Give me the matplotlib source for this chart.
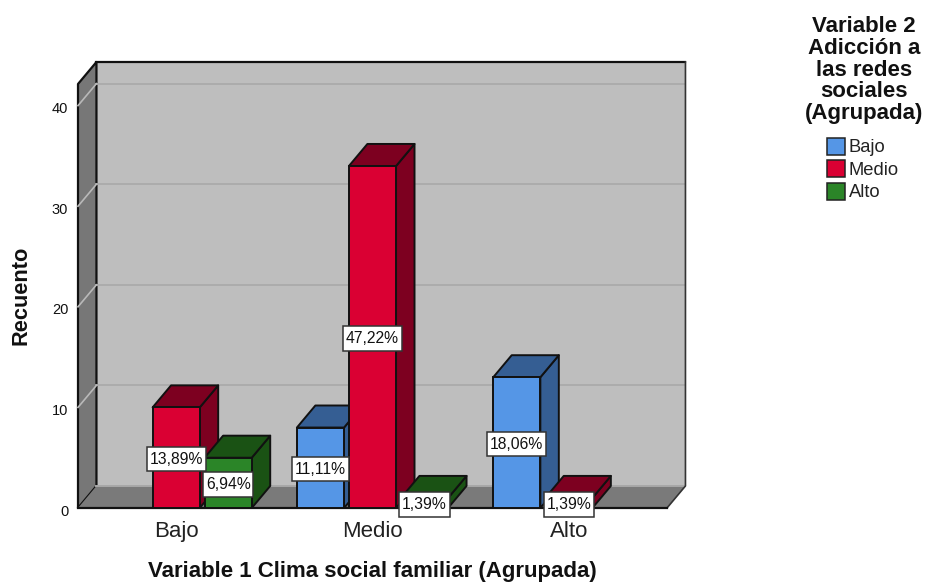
import matplotlib
matplotlib.use("Agg")
import matplotlib.pyplot as plt
from matplotlib.patches import Polygon, Rectangle
from matplotlib.path import Path
from matplotlib.transforms import ScaledTranslation

plt.rcParams['font.family'] = ['Liberation Sans', 'DejaVu Sans']

categories = ["Bajo", "Medio", "Alto"]
series_names = ["Bajo", "Medio", "Alto"]
bajo_counts = [0, 8, 13]
medio_counts = [10, 34, 1]
alto_counts = [5, 1, 0]
bajo_labels = ["", "11,11%", "18,06%"]
medio_labels = ["13,89%", "47,22%", "1,39%"]
alto_labels = ["6,94%", "1,39%", ""]
y_ticks = [0, 10, 20, 30, 40]

FRONT = ["#5596E6", "#DA0033", "#2B8528"]
DARK = ["#355E93", "#7D0020", "#1A5214"]
EDGE = "#111111"
BAR_W, STEP = 0.24, 0.265
DX, DY = 0.094, 2.19
XMIN, XMAX, YMAX = -0.5, 2.5, 42.15

W, H = 926, 583
fig = plt.figure(figsize=(W / 100, H / 100), dpi=100, facecolor="white")
ax = fig.add_axes([78 / W, (H - 508) / H, 589 / W, 424 / H])
ax.set_xlim(XMIN, XMAX)
ax.set_ylim(0, YMAX)
for s in ax.spines.values():
    s.set_visible(False)
ax.patch.set_visible(False)


def poly(pts, fc, ec=EDGE, lw=1.4, z=2):
    ax.add_patch(Polygon(pts, closed=True, facecolor=fc, edgecolor=ec, linewidth=lw,
                         clip_on=False, zorder=z, joinstyle="round"))


def label_box(x0, y0, width, height, mutation_size):
    # wider vertical than horizontal padding, as in the SPSS data labels
    px, py = 0.18 * mutation_size, 0.30 * mutation_size
    l, r, b, t = x0 - px, x0 + width + px, y0 - py, y0 + height + py
    return Path([(l, b), (r, b), (r, t), (l, t), (l, b)], closed=True)


# back wall, left wall, floor
poly([(XMIN + DX, DY), (XMAX + DX, DY), (XMAX + DX, YMAX + DY), (XMIN + DX, YMAX + DY)],
     "#BEBEBE", ec="none", z=1)
poly([(XMIN, 0), (XMIN + DX, DY), (XMIN + DX, YMAX + DY), (XMIN, YMAX)], "#777777", lw=1.6, z=1.2)
poly([(XMIN, 0), (XMAX, 0), (XMAX + DX, DY), (XMIN + DX, DY)], "#7A7A7A", ec="none", z=1.2)
ax.plot([XMIN + DX, XMAX + DX], [YMAX + DY] * 2, color=EDGE, lw=1.6, clip_on=False, zorder=1.5)
ax.plot([XMAX + DX, XMAX + DX, XMAX], [YMAX + DY, DY, 0], color="#333333", lw=1.2, clip_on=False, zorder=1.5)
ax.plot([XMIN, XMAX], [0, 0], color=EDGE, lw=1.6, clip_on=False, zorder=1.5)
ax.plot([XMIN + DX, XMAX + DX], [DY, DY], color="#A8A8A8", lw=1.4, clip_on=False, zorder=1.4)
for t in y_ticks[1:]:
    ax.plot([XMIN + DX, XMAX + DX], [t + DY] * 2, color="#ABABAB", lw=1.3, clip_on=False, zorder=1.3)
    ax.plot([XMIN, XMIN + DX], [t, t + DY], color="#B9B9B9", lw=1.2, clip_on=False, zorder=1.3)

# bars
all_counts = [bajo_counts, medio_counts, alto_counts]
all_labels = [bajo_labels, medio_labels, alto_labels]
z = 3.0
for c in range(len(categories)):
    for s in range(3):
        v = all_counts[s][c]
        if v == 0:
            continue
        x0 = c + (s - 1) * STEP - BAR_W / 2
        x1 = x0 + BAR_W
        poly([(x1, 0), (x1 + DX, DY), (x1 + DX, v + DY), (x1, v)], DARK[s], z=z)
        poly([(x0, v), (x1, v), (x1 + DX, v + DY), (x0 + DX, v + DY)], DARK[s], z=z)
        ax.add_patch(Rectangle((x0, 0), BAR_W, v, facecolor=FRONT[s], edgecolor=EDGE,
                               linewidth=1.4, clip_on=False, zorder=z + 0.1))
        z += 0.2
for c in range(len(categories)):
    for s in range(3):
        v = all_counts[s][c]
        if v == 0:
            continue
        ax.text(c + (s - 1) * STEP, v / 2, all_labels[s][c], ha="center", va="center_baseline",
                fontsize=11.3, color="#111111", zorder=10,
                bbox=dict(boxstyle=label_box, facecolor="white", edgecolor="#333333", linewidth=1.1))

# axes text
ax.set_xticks(range(len(categories)))
ax.set_xticklabels(categories, fontsize=16, color="#222222")
ax.set_yticks(y_ticks)
ax.set_yticklabels([str(t) for t in y_ticks], fontsize=10.5, color="#111111")
ax.tick_params(axis="both", length=0)
ax.tick_params(axis="x", pad=9.5)
ax.tick_params(axis="y", pad=7)
shift = ScaledTranslation(0, -2 / 100, fig.dpi_scale_trans)
for lab in ax.get_yticklabels():
    lab.set_transform(lab.get_transform() + shift)
ax.set_xlabel("Variable 1 Clima social familiar (Agrupada)", fontsize=16, fontweight="bold",
              color="#111111", va="center")
ax.xaxis.set_label_coords(0.5, (508 - 572) / 424)
ax.set_ylabel("Recuento", fontsize=15.7, fontweight="bold", color="#111111", va="center")
ax.yaxis.set_label_coords((21 - 78) / 589, 0.502)

# legend
fig.text(864 / W, 1 - 70 / H, "Variable 2\nAdicción a\nlas redes\nsociales\n(Agrupada)",
         ha="center", va="center", fontsize=16, fontweight="bold", color="#111111", linespacing=1.05)
leg_y = [146, 169, 191]
for i, name in enumerate(series_names):
    fig.add_artist(Rectangle((827 / W, 1 - (leg_y[i] + 8.5) / H), 18 / W, 17 / H, facecolor=FRONT[i],
                             edgecolor="#222222", linewidth=1.1, transform=fig.transFigure))
    fig.text(849 / W, 1 - (leg_y[i] + 1.5) / H, name, ha="left", va="center", fontsize=13.2, color="#222222")

fig.savefig("out.png", dpi=100)
